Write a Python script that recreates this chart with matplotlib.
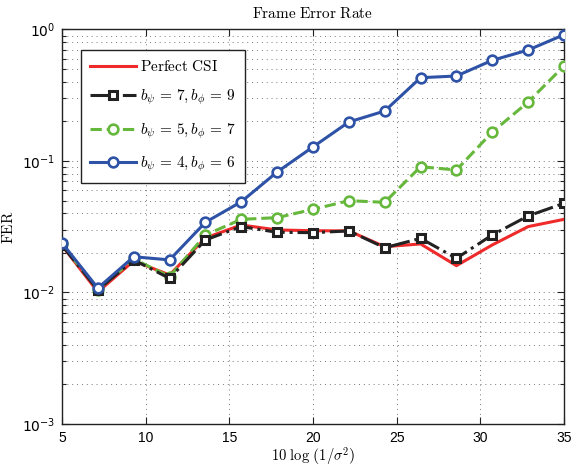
import numpy as np
import matplotlib
matplotlib.use("Agg")
import matplotlib.pyplot as plt
from matplotlib.ticker import LogLocator, FixedLocator, NullFormatter

plt.rcParams['mathtext.fontset'] = 'cm'

# SNR points, 10 log(1/sigma^2)
snr = np.linspace(5, 35, 15)

fer_perfect = [0.0228, 0.0101, 0.0174, 0.0136, 0.0260, 0.0326, 0.0299, 0.0295,
               0.0294, 0.0223, 0.0234, 0.0160, 0.0230, 0.0317, 0.0360]
fer_b7_9 = [0.0228, 0.0105, 0.0177, 0.0128, 0.0251, 0.0317, 0.0287, 0.0285,
            0.0294, 0.0219, 0.0258, 0.0182, 0.0274, 0.0382, 0.0477]
fer_b5_7 = [0.0232, 0.0105, 0.0180, 0.0132, 0.0274, 0.0360, 0.0371, 0.0429,
            0.0499, 0.0485, 0.0905, 0.0854, 0.166, 0.281, 0.528]
fer_b4_6 = [0.0238, 0.0108, 0.0187, 0.0177, 0.0342, 0.0490, 0.0825, 0.128,
            0.198, 0.240, 0.430, 0.443, 0.583, 0.698, 0.913]

labels = [r'$\mathrm{Perfect\ CSI}$',
          r'$b_\psi\,=\,7, b_\phi\,=\,9$',
          r'$b_\psi\,=\,5, b_\phi\,=\,7$',
          r'$b_\psi\,=\,4, b_\phi\,=\,6$']

fig = plt.figure(figsize=(5.73, 4.69), dpi=100)
ax = fig.add_axes([62 / 573, 45 / 469, 502 / 573, 394.5 / 469])

ax.semilogy(snr, fer_perfect, color='#ee2a2a', lw=2.2, label=labels[0], zorder=3)
ax.semilogy(snr, fer_b7_9, color='#222222', lw=2.2, ls='-.', marker='s', ms=5.5,
            mfc='white', mec='#222222', mew=2.2, label=labels[1], zorder=4)
ax.semilogy(snr, fer_b5_7, color='#66b83c', lw=2.2, ls='--', marker='o', ms=7,
            mfc='white', mec='#66b83c', mew=1.9, label=labels[2], zorder=3)
ax.semilogy(snr, fer_b4_6, color='#2d52a6', lw=2.2, marker='o', ms=7,
            mfc='white', mec='#2d52a6', mew=1.9, label=labels[3], zorder=5)

ax.set_xlim(5, 35)
ax.set_ylim(1e-3, 1)
ax.xaxis.set_major_locator(FixedLocator([5, 10, 15, 20, 25, 30, 35]))
ax.yaxis.set_minor_locator(LogLocator(base=10, subs=np.arange(2, 10), numticks=20))
ax.yaxis.set_minor_formatter(NullFormatter())
ax.set_yticks([1e-3, 1e-2, 1e-1, 1])
ax.set_yticklabels([r'$10^{-3}$', r'$10^{-2}$', r'$10^{-1}$', r'$10^{0}$'])
for t in ax.get_yticklabels():
    t.set_math_fontfamily('dejavusans')
    t.set_fontsize(10)
for t in ax.get_xticklabels():
    t.set_fontfamily('Liberation Sans')
    t.set_fontsize(10)

ax.tick_params(which='both', direction='in', top=True, right=True, width=0.8,
               color='#222222')
ax.tick_params(which='major', length=5, pad=5)
ax.tick_params(which='minor', length=3)
grid_kw = dict(ls=(0, (1, 4)), color='#777777', lw=0.7)
ax.grid(which='major', **grid_kw)
ax.grid(which='minor', axis='y', **grid_kw)
for s in ax.spines.values():
    s.set_linewidth(1.0)
    s.set_color('#222222')

ax.set_title(r'$\mathrm{Frame\ Error\ Rate}$', fontsize=11, pad=8)
ax.set_xlabel(r'$10\ \log\,\left(1/\sigma^2\right)$', fontsize=10.5, labelpad=0)
ax.set_ylabel(r'$\mathrm{FER}$', fontsize=11, labelpad=4)

leg = ax.legend(loc='upper left', bbox_to_anchor=(0.037, 0.948), borderaxespad=0,
                fontsize=11, handlelength=3.0, labelspacing=0.9, fancybox=False,
                framealpha=1, edgecolor='#222222', borderpad=0.6, handletextpad=0.3)
leg.get_frame().set_linewidth(1.0)

fig.savefig('out.png', dpi=100)
